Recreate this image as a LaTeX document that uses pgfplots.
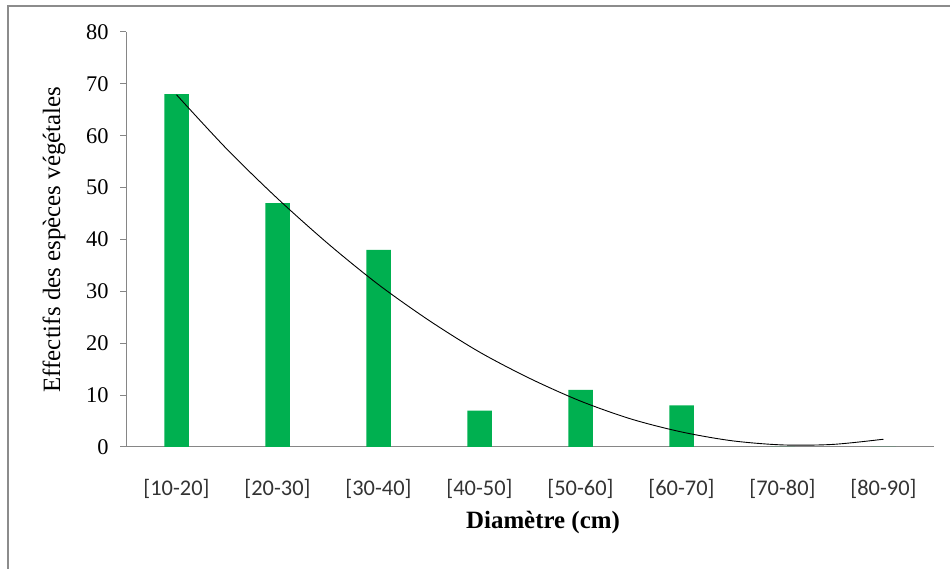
\documentclass[border=0pt]{standalone}
\usepackage{pgfplots}
\pgfplotsset{compat=1.18}
\usepackage{fontspec}
\setmainfont{Liberation Serif}
\newfontfamily\calib{Carlito}
\definecolor{bargreen}{RGB}{0,176,80}
\definecolor{axisgray}{RGB}{134,134,134}

\begin{document}
\begin{tikzpicture}[x=1bp,y=1bp]
\path[use as bounding box, clip] (0,0) rectangle (950,569);
% cadre du graphique (coupe a droite et en bas)
\draw[line width=2bp, color=black!45] (7.5,-20) rectangle (980,563);
\begin{axis}[
  at={(126bp,122bp)}, anchor=south west,
  scale only axis,
  width=808bp, height=415bp,
  xmin=-0.5, xmax=7.5,
  ymin=0, ymax=80,
  axis x line*=bottom,
  axis y line*=left,
  axis line style={color=axisgray, line width=1bp},
  ytick={0,10,...,80},
  tick align=outside,
  major tick length=6bp,
  y tick style={color=axisgray, line width=1bp},
  xtick={0,...,7},
  xticklabels={[10-20],[20-30],[30-40],[40-50],[50-60],[60-70],[70-80],[80-90]},
  x tick style={draw=none},
  /pgf/number format/assume math mode=true,
  yticklabel style={font=\fontsize{22.5}{24}\selectfont, xshift=-8bp},
  xticklabel style={font=\calib\fontsize{22.5}{24}\selectfont, text=black!80, anchor=center, yshift=-36bp},
  xlabel={\textbf{Diamètre (cm)}},
  ylabel={Effectifs des espèces végétales},
  every axis x label/.style={at={(axis description cs:0.5,0)}, anchor=center, xshift=13bp, yshift=-76bp, font=\fontsize{25}{27}\selectfont},
  every axis y label/.style={at={(axis description cs:0,0.5)}, rotate=90, anchor=center, yshift=72bp, font=\fontsize{25}{27}\selectfont},
  clip=false,
]
\addplot[ybar, bar width=24.5bp, fill=bargreen, draw=none] coordinates {
  (0,68) (1,47) (2,38) (3,7) (4,11) (5,8) (6,0) (7,0)
};
% courbe de tendance (polynome d'ordre 2)
\addplot[black, line width=0.9bp, smooth] coordinates {
  (0,67.9) (0.5,57.4) (1,47.9) (1.5,39.2) (2,31.3) (2.5,24.4) (3,18.3) (3.5,13.2)
  (4,8.85) (4.5,5.4) (5,2.9) (5.5,1.2) (6,0.4) (6.5,0.5) (7,1.5)
};
\end{axis}
\end{tikzpicture}
\end{document}
